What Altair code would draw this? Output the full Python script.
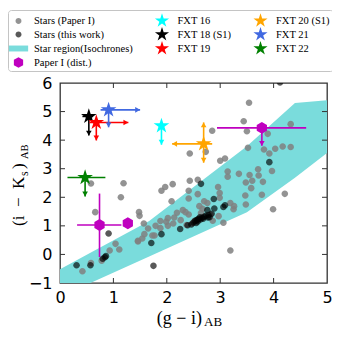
import altair as alt
import pandas as pd

# ---------------- data ----------------
gray_x = [0.58, 1.19, 1.14, 0.66, 1.48, 1.49, 1.57, 1.65, 1.46, 1.54, 1.77, 1.04, 1.11, 0.93, 0.58, 0.42, 0.78,
          2.43, 3.00, 3.09, 3.97, 3.14, 3.35, 3.14, 3.55, 3.71, 3.72, 3.60, 3.80, 3.48, 3.58, 3.78, 3.47, 3.48,
          4.21, 3.99, 3.52, 3.82, 3.92, 4.03, 4.17, 4.32, 3.54, 3.44, 3.50, 4.32, 3.89, 2.85, 2.73, 2.43, 2.58,
          1.90, 1.97, 2.11, 2.41, 2.41, 2.58, 2.70, 2.76, 2.96, 2.99, 2.99, 2.09, 2.19, 2.35, 2.41, 2.02, 2.14,
          1.99, 1.88, 1.79, 1.88, 2.02, 2.12, 2.37, 2.48, 2.52, 2.61, 2.67, 3.19, 3.26, 3.25, 2.97, 3.06, 2.82,
          3.19, 1.73, 1.58, 1.46, 2.26, 2.30, 2.86, 2.64]
gray_y = [2.48, 2.49, 2.00, 1.48, 1.48, 1.35, 1.08, 0.91, 0.48, 0.56, 0.66, 0.37, 0.17, 0.14, -0.30, -0.59, -0.22,
          3.53, 3.28, 3.36, 2.92, 2.90, 2.82, 2.72, 2.78, 2.98, 2.76, 2.58, 2.54, 2.52, 2.32, 2.09, 2.06, 1.75,
          2.12, 1.58, 3.73, 3.67, 3.53, 3.70, 3.78, 3.76, 5.31, 4.66, 4.31, 4.56, 4.22, 4.33, 3.59, 2.58, 2.61,
          2.23, 2.36, 2.46, 2.23, 1.96, 2.11, 1.86, 1.80, 2.36, 2.15, 1.98, 1.86, 1.46, 1.48, 1.40, 1.27, 1.29,
          1.14, 1.17, 1.00, 0.92, 1.00, 1.08, 1.03, 1.09, 1.17, 1.69, 1.60, 1.80, 1.69, 1.58, 1.34, 1.11, 1.40,
          0.14, 0.66, 0.71, 0.45, 1.20, 1.55, 1.18, 1.45]

black_x = [0.91, 1.71, 0.86, 0.80, 0.84, 0.31, 0.57, 1.75, 3.92, 4.12, 2.64, 2.88, 2.76, 2.89, 3.06, 3.09, 1.90,
           2.25, 2.39, 2.46, 2.50, 2.53, 2.56, 2.58, 2.60, 2.63, 2.66, 2.70, 2.73, 2.55, 2.62, 2.68, 2.78, 2.84,
           2.80, 2.58, 2.77]
black_y = [0.73, 0.40, -0.06, -0.15, -0.10, -0.38, -0.38, -0.40, 3.23, 6.02, 2.47, 1.94, 1.55, 1.61, 1.66, 1.72,
           0.71, 0.89, 1.02, 1.05, 1.12, 1.18, 1.20, 1.15, 1.25, 1.22, 1.28, 1.32, 1.35, 1.10, 1.30, 1.25, 1.38,
           1.42, 1.30, 1.22, 1.29]

band_x = [0.0, 0.57, 1.67, 3.5, 4.4, 5.0]
band_lo = [-1.48, -1.0, -0.07, 1.48, 2.68, 3.55]
band_hi = [-0.52, 0.06, 1.17, 3.79, 5.3, 5.4]

fxt_label = ["FXT 16", "FXT 18 (S1)", "FXT 19", "FXT 21", "FXT 20 (S1)", "FXT 22"]
fxt_x = [1.90, 0.54, 0.68, 0.91, 2.69, 0.47]
fxt_y = [4.50, 4.83, 4.62, 5.06, 3.87, 2.69]
dist_x = [0.74, 1.27, 3.78]
dist_y = [1.03, 1.09, 4.43]

seg_label = ["FXT 16", "FXT 18 (S1)", "FXT 18 (S1)", "FXT 19", "FXT 19", "FXT 21", "FXT 21",
             "FXT 20 (S1)", "FXT 20 (S1)", "FXT 22", "FXT 22",
             "Paper I (dist.)", "Paper I (dist.)", "Paper I (dist.)", "Paper I (dist.)"]
seg_x = [1.90, 0.42, 0.54, 0.55, 0.68, 0.76, 0.91, 2.10, 2.69, 0.14, 0.47, 0.32, 0.74, 2.94, 3.78]
seg_x2 = [1.90, 0.62, 0.54, 1.28, 0.68, 1.50, 0.91, 2.85, 2.69, 0.85, 0.47, 1.15, 0.74, 4.61, 3.78]
seg_y = [4.50, 4.83, 4.83, 4.62, 4.62, 5.06, 5.06, 3.87, 3.21, 2.69, 2.69, 1.03, 2.13, 4.43, 4.43]
seg_y2 = [3.84, 4.83, 4.16, 4.62, 3.99, 5.06, 4.45, 3.87, 4.62, 2.69, 2.03, 1.03, -0.09, 4.43, 3.80]

arr_label = ["FXT 16", "FXT 18 (S1)", "FXT 19", "FXT 19", "FXT 21", "FXT 21", "FXT 20 (S1)",
             "FXT 20 (S1)", "FXT 20 (S1)", "FXT 22", "Paper I (dist.)"]
arr_x = [1.90, 0.54, 1.28, 0.68, 1.50, 0.91, 2.10, 2.69, 2.69, 0.47, 3.78]
arr_y = [3.84, 4.16, 4.62, 3.99, 5.06, 4.45, 3.87, 4.62, 3.21, 2.03, 3.80]
arr_dir = ["down", "down", "right", "down", "right", "down", "left", "up", "down", "down", "down"]

x_ticks = [1, 2, 3, 4]
y_ticks = [0, 1, 2, 3, 4, 5]
x_labels = [0, 1, 2, 3, 4, 5]
y_labels = [-1, 0, 1, 2, 3, 4, 5, 6]

# legend entries (row-major order for a 3-column legend)
LEG = ["Stars (Paper I)", "FXT 16", "FXT 20 (S1)",
       "Stars (this work)", "FXT 18 (S1)", "FXT 21",
       "Star region(Isochrones)", "FXT 19", "FXT 22",
       "Paper I (dist.)"]
COL = ["rgba(128,128,128,0.85)", "#00ffff", "#ffa500",
       "rgba(0,0,0,0.65)", "#000000", "#4169e1",
       "#7adcdc", "#ff0000", "#008000",
       "#bf00bf"]

STAR = ("M0,-1L0.2245,-0.309L0.951,-0.309L0.363,0.118L0.588,0.809L0,0.382"
        "L-0.588,0.809L-0.363,0.118L-0.951,-0.309L-0.2245,-0.309Z")
DOT = "M0.4,0A0.4,0.4,0,1,1,-0.4,0A0.4,0.4,0,1,1,0.4,0Z"
HEX = "M0,-0.72L0.624,-0.36L0.624,0.36L0,0.72L-0.624,0.36L-0.624,-0.36Z"
RECT = "M-1.3,-0.4H1.3V0.4H-1.3Z"
SHP = [DOT, STAR, STAR, DOT, STAR, STAR, RECT, STAR, STAR, HEX]

ARROW = {"down": "M0,0L-0.8,-1.4L0.8,-1.4Z", "up": "M0,0L-0.8,1.4L0.8,1.4Z",
         "right": "M0,0L-1.4,-0.8L-1.4,0.8Z", "left": "M0,0L1.4,-0.8L1.4,0.8Z"}

# ---------------- tables ----------------
pts = pd.DataFrame({
    "x": gray_x + black_x,
    "y": gray_y + black_y,
    "label": ["Stars (Paper I)"] * len(gray_x) + ["Stars (this work)"] * len(black_x),
})
band = pd.DataFrame({"x": band_x, "lo": band_lo, "hi": band_hi})
markers = pd.DataFrame({
    "x": fxt_x + dist_x,
    "y": fxt_y + dist_y,
    "label": fxt_label + ["Paper I (dist.)"] * len(dist_x),
})
segs = pd.DataFrame({"x": seg_x, "x2": seg_x2, "y": seg_y, "y2": seg_y2, "label": seg_label})
arrs = pd.DataFrame({"x": arr_x, "y": arr_y, "label": arr_label, "dir": arr_dir})
xt = pd.DataFrame({"x": x_ticks})
yt = pd.DataFrame({"y": y_ticks})
one = pd.DataFrame({"k": [0]})

W, H = 267, 200

xs = alt.Scale(domain=[0, 5], nice=False, zero=False)
ys = alt.Scale(domain=[-1, 6], nice=False, zero=False)
xaxis = alt.Axis(values=x_labels, title=None, format="d", labelFont="DejaVu Sans", labelFontSize=16,
                 labelColor="black", labelPadding=6, ticks=False, domain=False, grid=False,
                 labelFlush=False, labelOverlap=False)
yaxis = alt.Axis(values=y_labels, title=None, format="d", labelFont="DejaVu Sans", labelFontSize=16,
                 labelColor="black", labelPadding=8, ticks=False, domain=False, grid=False,
                 labelFlush=False, labelOverlap=False)

legend = alt.Legend(title=None, orient="none", legendX=-52, legendY=-73, columns=3, direction="horizontal",
                    columnPadding=21.5, rowPadding=0, labelOffset=8, labelFont="Liberation Serif",
                    labelFontSize=10.5, labelColor="black", symbolSize=220, symbolStrokeWidth=0,
                    strokeColor="#c4c4c4", fillColor="white", padding=3, cornerRadius=3, labelLimit=200)

cscale = alt.Scale(domain=LEG, range=COL)
sscale = alt.Scale(domain=LEG, range=SHP)


def X(f="x"):
    return alt.X(f + ":Q", scale=xs, axis=xaxis)


def Y(f="y"):
    return alt.Y(f + ":Q", scale=ys, axis=yaxis)


def C():
    return alt.Color("label:N", scale=cscale, legend=legend)


def S():
    return alt.Shape("label:N", scale=sscale, legend=legend)


band_layer = alt.Chart(band).mark_area(color="#7adcdc", clip=True).encode(
    x=X(), y=Y("lo"), y2="hi:Q")

tick_col = "#333333"
tb = alt.Chart(xt).mark_rule(color=tick_col, strokeWidth=1).encode(x=X(), y=alt.value(H), y2=alt.value(H - 5))
tt = alt.Chart(xt).mark_rule(color=tick_col, strokeWidth=1).encode(x=X(), y=alt.value(0), y2=alt.value(5))
tl = alt.Chart(yt).mark_rule(color=tick_col, strokeWidth=1).encode(y=Y(), x=alt.value(0), x2=alt.value(5))
tr = alt.Chart(yt).mark_rule(color=tick_col, strokeWidth=1).encode(y=Y(), x=alt.value(W), x2=alt.value(W - 5))

pts_layer = alt.Chart(pts).mark_point(filled=True, size=270, opacity=1, strokeWidth=0, clip=True).encode(
    x=X(), y=Y(), color=C(), shape=S())

rule_layer = alt.Chart(segs).mark_rule(strokeWidth=1.6).encode(
    x=X(), x2="x2:Q", y=Y(), y2="y2:Q", color=C())

arrow_layers = []
for d, path in ARROW.items():
    arrow_layers.append(
        alt.Chart(arrs).transform_filter(alt.datum.dir == d).mark_point(
            filled=True, size=49, opacity=1, strokeWidth=0, shape=path).encode(
            x=X(), y=Y(), color=C()))

marker_layer = alt.Chart(markers).mark_point(filled=True, size=270, opacity=1, strokeWidth=0).encode(
    x=X(), y=Y(), color=C(), shape=S())


def txt(s, px, py, size, angle=0, align="left"):
    return alt.Chart(one).mark_text(text=s, font="Liberation Serif", fontSize=size, color="black",
                                    angle=angle, align=align, baseline="alphabetic").encode(
        x=alt.value(px), y=alt.value(py))


titles = [
    txt("(g − i)", 142, 241, 18, align="right"),
    txt("AB", 144, 243, 13),
    txt("(i\u2002−\u2002K", -36, 143, 17, angle=270),
    txt("s", -32.5, 93, 12, angle=270),
    txt(")", -36, 86, 17, angle=270),
    txt("AB", -32, 76, 10.5, angle=270),
]

chart = alt.layer(
    band_layer, tb, tt, tl, tr, pts_layer, rule_layer, *arrow_layers, marker_layer, *titles
).properties(
    width=W, height=H,
    autosize=alt.AutoSizeParams(type="none"),
    padding={"left": 52, "top": 75, "right": 5, "bottom": 45},
).configure_view(stroke="#333333", strokeWidth=1.3)

chart.save("out.html", embed_options={"renderer": "svg", "actions": False})
